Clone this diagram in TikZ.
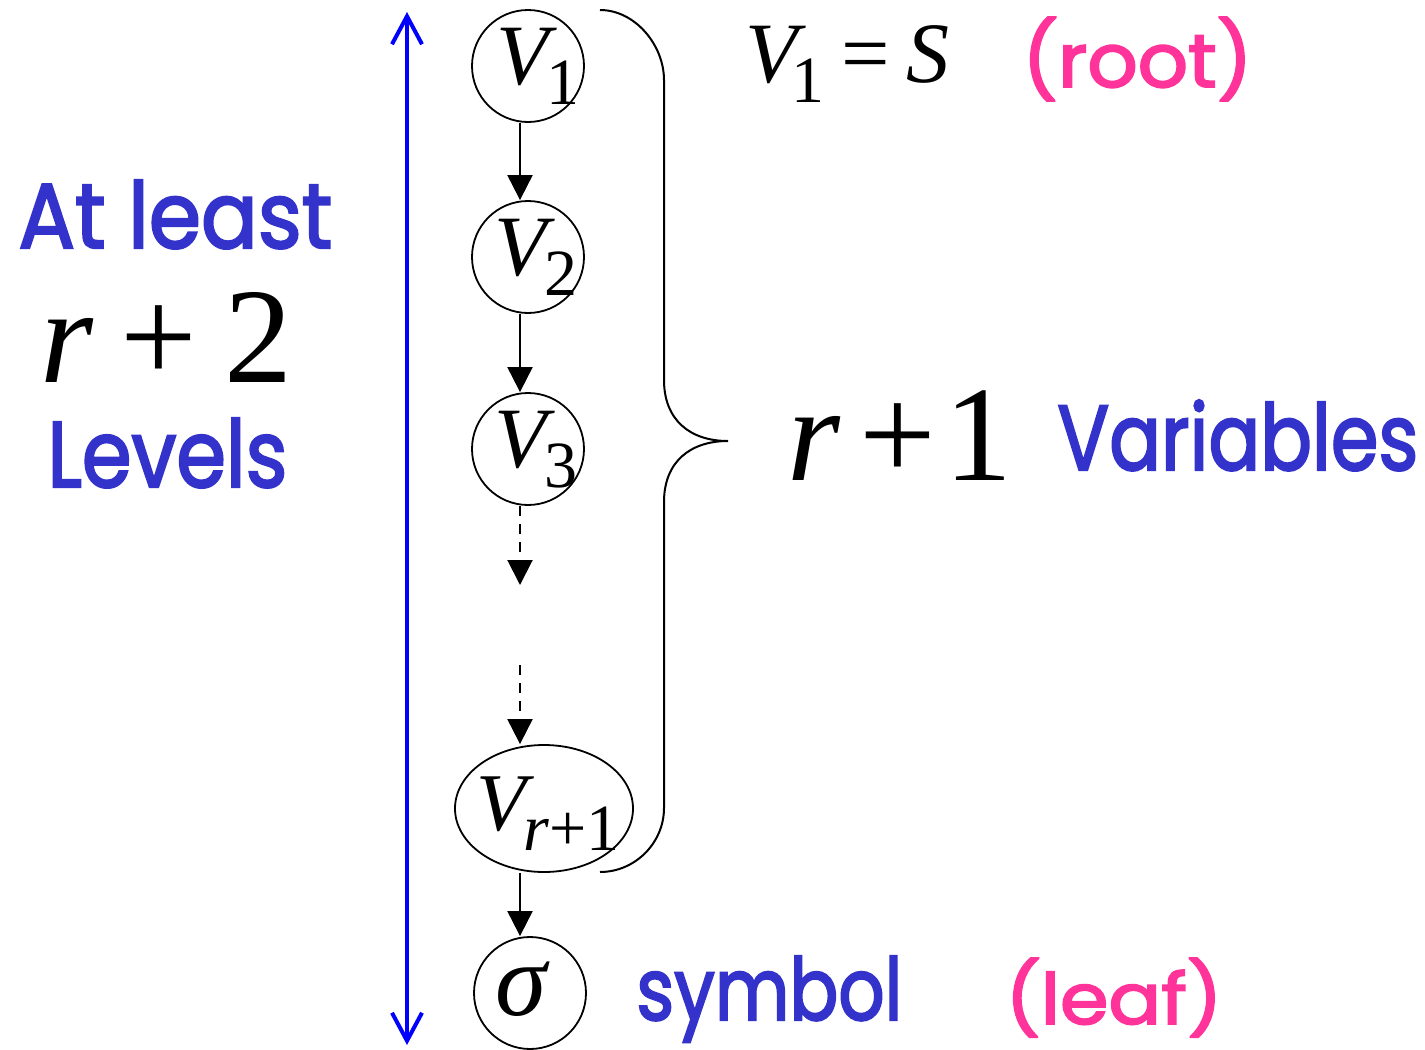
\documentclass[tikz,border=0pt]{standalone}
\usepackage{fontspec}
\setmainfont{Liberation Serif}
\newfontfamily\comic[FakeBold=2.5]{Poppins}
\usetikzlibrary{arrows.meta,shapes.geometric}
\definecolor{bblue}{RGB}{0,0,255}
\definecolor{tblue}{RGB}{51,51,204}
\definecolor{tpink}{RGB}{255,51,153}
\newcommand\fitbox[3]{\resizebox{#1}{#2}{#3}}
\newcommand\Vsub[3][-0.16em]{{\fontsize{#2}{#2}\selectfont\itshape V}\kern#1\raisebox{-10pt}{\fontsize{33pt}{33pt}\selectfont #3}}
% place content at a fixed offset without enlarging the node
\newcommand\incirc[3]{\makebox[0pt]{\hspace*{#1}\raisebox{#2}[0pt][0pt]{#3}}}
\begin{document}
\begin{tikzpicture}[x=0.5pt,y=-0.5pt,
  circ/.style={circle, draw, line width=0.9pt, minimum size=56pt, inner sep=0pt},
  ell/.style={ellipse, draw, line width=0.9pt, minimum width=89pt, minimum height=63.5pt, inner sep=0pt},
  arr/.style={-{Triangle[length=12.5pt,width=12.5pt]}, line width=1pt},
  dasharr/.style={arr, dash pattern=on 5pt off 4pt},
  barrow/.style={{Straight Barb[length=14pt,width=15pt]}-{Straight Barb[length=14pt,width=15pt]}, line width=2pt, draw=bblue, line cap=round},
  bracepath/.style={line width=1pt},
  lbl/.style={inner sep=0pt, anchor=base west},
  ctext/.style={lbl, font=\comic},
]
\useasboundingbox (0,0) rectangle (1425,1050);
% nodes
\node[circ] (v1) at (528,66) {\incirc{10pt}{-9pt}{\Vsub{43pt}{1}}};
\node[circ] (v2) at (528,257) {\incirc{8pt}{-9pt}{\Vsub{43pt}{2}}};
\node[circ] (v3) at (528,449) {\incirc{8pt}{-9pt}{\Vsub{43pt}{3}}};
\node[ell] (vr) at (544,808.5) {\incirc{4pt}{-11pt}{\Vsub{41pt}{{\itshape r}+1}}};
\node[circ] (s) at (530,993) {\incirc{-9pt}{-11pt}{\fontsize{52pt}{52pt}\selectfont\itshape σ}};
% helper coordinates
\coordinate (ax) at (520,0);
\coordinate (d1) at (520,585);
\coordinate (d2) at (520,665);
\coordinate (bt) at (407,12);
\coordinate (bb) at (407,1045);
\coordinate (bra) at (600,10);
\coordinate (brt) at (728,441);
\coordinate (brb) at (600,872);
% connectors
\draw[arr] (v1.south -| ax) -- (v2.north -| ax);
\draw[arr] (v2.south -| ax) -- (v3.north -| ax);
\draw[dasharr] (v3.south -| ax) -- (d1);
\draw[dasharr] (d2) -- (vr.north -| ax);
\draw[arr] (vr.south -| ax) -- (s.north -| ax);
% blue double arrow
\draw[barrow] (bb) -- (bt);
% brace
\draw[bracepath] (bra) .. controls (635,10) and (664,45) .. (664,80)
  -- (664,380) .. controls (664,420) and (690,441) .. (brt)
  .. controls (690,441) and (664,462) .. (664,502)
  -- (664,808) .. controls (664,843) and (635,872) .. (brb);
% labels
\node[lbl, font=\fontsize{43pt}{43pt}\selectfont] (eq) at (745,82) {\Vsub[-0.08em]{43pt}{1}\hspace{0.2em}=\hspace{0.2em}{\itshape S}};
\node[ctext, text=tpink] (root) at (1022,87) {\fitbox{115pt}{35pt}{(root)}};
\node[ctext, text=tblue] (atl) at (18,248) {\fitbox{157pt}{34pt}{At least}};
\node[lbl, font=\fontsize{68pt}{68pt}\selectfont] (r2) at (40,382) {{\itshape r}\hspace{0.2em}+\hspace{0.2em}2};
\node[ctext, text=tblue] (lev) at (47,487) {\fitbox{120pt}{34.5pt}{Levels}};
\node[lbl, font=\fontsize{68pt}{68pt}\selectfont] (r1) at (787,480) {{\itshape r}\hspace{0.14em}+\hspace{0.06em}1};
\node[ctext, text=tblue] (var) at (1057,470) {\fitbox{180.5pt}{35pt}{Variables}};
\node[ctext, text=tblue] (sym) at (636,1020) {\fitbox{133pt}{32pt}{symbol}};
\node[ctext, text=tpink] (leaf) at (1005,1024) {\fitbox{108.5pt}{33pt}{(leaf)}};
\end{tikzpicture}
\end{document}
